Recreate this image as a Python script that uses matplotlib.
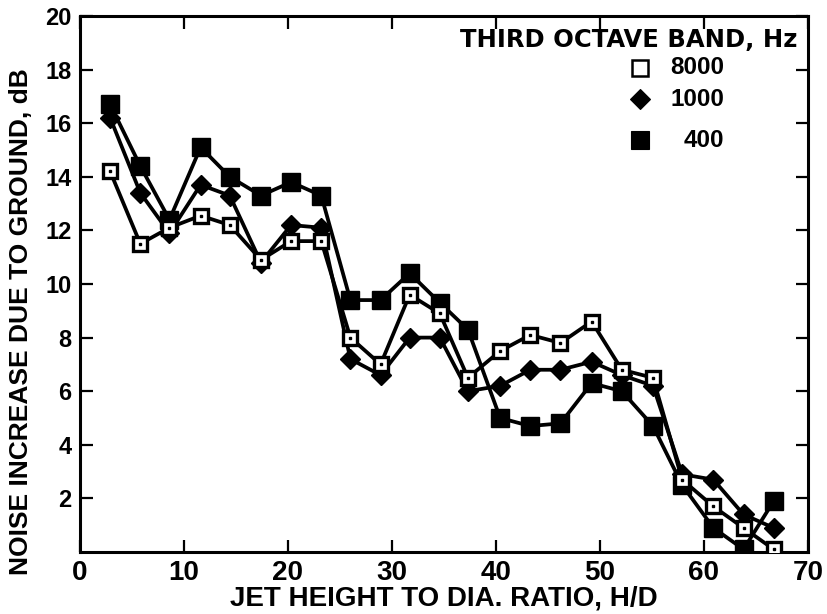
import matplotlib
matplotlib.use("Agg")
import matplotlib.pyplot as plt
from matplotlib import font_manager as fm

# H/D positions of the measurements
hd = [2.9, 5.8, 8.6, 11.6, 14.4, 17.4, 20.3, 23.2, 26.0, 28.9, 31.7, 34.6,
      37.3, 40.4, 43.3, 46.2, 49.2, 52.1, 55.1, 57.9, 60.9, 63.8, 66.7]

# Noise increase due to ground (dB) per third-octave band
band_8000 = [14.2, 11.5, 12.1, 12.55, 12.2, 10.9, 11.6, 11.6, 8.0, 7.0, 9.6, 8.9,
             6.5, 7.5, 8.1, 7.8, 8.6, 6.8, 6.5, 2.7, 1.7, 0.9, 0.1]
band_1000 = [16.2, 13.4, 11.9, 13.7, 13.3, 10.8, 12.2, 12.1, 7.2, 6.6, 8.0, 8.0,
             6.0, 6.2, 6.8, 6.8, 7.1, 6.6, 6.2, 2.9, 2.7, 1.4, 0.9]
band_400 = [16.7, 14.4, 12.4, 15.1, 14.0, 13.3, 13.8, 13.3, 9.4, 9.4, 10.4, 9.3,
            8.3, 5.0, 4.7, 4.8, 6.3, 6.0, 4.7, 2.5, 0.9, 0.1, 1.9]

legend_title = "THIRD OCTAVE BAND, Hz"
legend_labels = ["8000", "1000", "400"]
x_ticks = [0, 10, 20, 30, 40, 50, 60, 70]
y_ticks = [2, 4, 6, 8, 10, 12, 14, 16, 18, 20]

installed = {f.name for f in fm.fontManager.ttflist}
narrow = "Liberation Sans Narrow" if "Liberation Sans Narrow" in installed else "Liberation Sans"
plt.rcParams["font.family"] = ["Liberation Sans", "DejaVu Sans"]

W, H = 828, 614
fig = plt.figure(figsize=(W / 100, H / 100), dpi=100)
left, right, top, bottom = 80, 808, 16, 552
ax = fig.add_axes([left / W, 1 - bottom / H, (right - left) / W, (bottom - top) / H])
ax.set_xlim(0, 70)
ax.set_ylim(0, 20)

lw = 2.7
# connecting lines first, markers above them
for ys in (band_400, band_1000, band_8000):
    ax.plot(hd, ys, color="black", lw=lw, zorder=2, solid_joinstyle="round")

ax.plot(hd, band_400, ls="none", marker="s", ms=13.5, mfc="black", mec="black",
        mew=1.0, zorder=3)
ax.plot(hd, band_1000, ls="none", marker="D", ms=10.5, mfc="black", mec="black",
        mew=1.0, zorder=3)
ax.plot(hd, band_8000, ls="none", marker="s", ms=10.5, mfc="white", mec="black",
        mew=2.4, zorder=4)
ax.plot(hd, band_8000, ls="none", marker="s", ms=1.6, color="black", zorder=5)

# frame and ticks
for s in ax.spines.values():
    s.set_linewidth(2.2)
ax.set_xticks(x_ticks)
ax.set_yticks(y_ticks)
ax.set_xticklabels([str(v) for v in x_ticks])
ax.set_yticklabels([str(v) for v in y_ticks])
ax.tick_params(axis="both", direction="in", length=9, width=1.6,
               top=True, right=True)
ax.tick_params(axis="x", pad=6)
ax.tick_params(axis="y", pad=6)
for t in ax.get_xticklabels():
    t.set_fontfamily([narrow, "Liberation Sans"])
    t.set_fontweight("bold")
    t.set_fontsize(20)
for t in ax.get_yticklabels():
    t.set_fontweight("bold")
    t.set_fontsize(17)

ax.set_xlabel("JET HEIGHT TO DIA. RATIO, H/D", fontsize=20, fontweight="bold")
ax.xaxis.set_label_coords(0.5, -0.062)
ax.set_ylabel("NOISE INCREASE DUE TO GROUND, dB", fontsize=19,
              fontweight="bold")
ax.yaxis.set_label_coords(-0.064, 0.43)

# legend drawn as text and marker keys
ax.text(0.986, 0.955, legend_title, transform=ax.transAxes, ha="right",
        va="center", fontsize=17.5, family=["DejaVu Sans"], fontweight="bold")
key_x = 0.769
rows_y = [0.903, 0.845, 0.768]
key_styles = [
    dict(marker="s", ms=11, mfc="white", mec="black", mew=1.8),
    dict(marker="D", ms=10.5, mfc="black", mec="black", mew=0.8),
    dict(marker="s", ms=12.5, mfc="black", mec="black", mew=0.8),
]
for yk, lab, st in zip(rows_y, legend_labels, key_styles):
    ax.plot([key_x], [yk], ls="none", transform=ax.transAxes, clip_on=False,
            zorder=6, **st)
    ax.text(0.885, yk, lab, transform=ax.transAxes, ha="right", va="center",
            fontsize=17.5, fontweight="bold")

fig.savefig("out.png", dpi=100)
